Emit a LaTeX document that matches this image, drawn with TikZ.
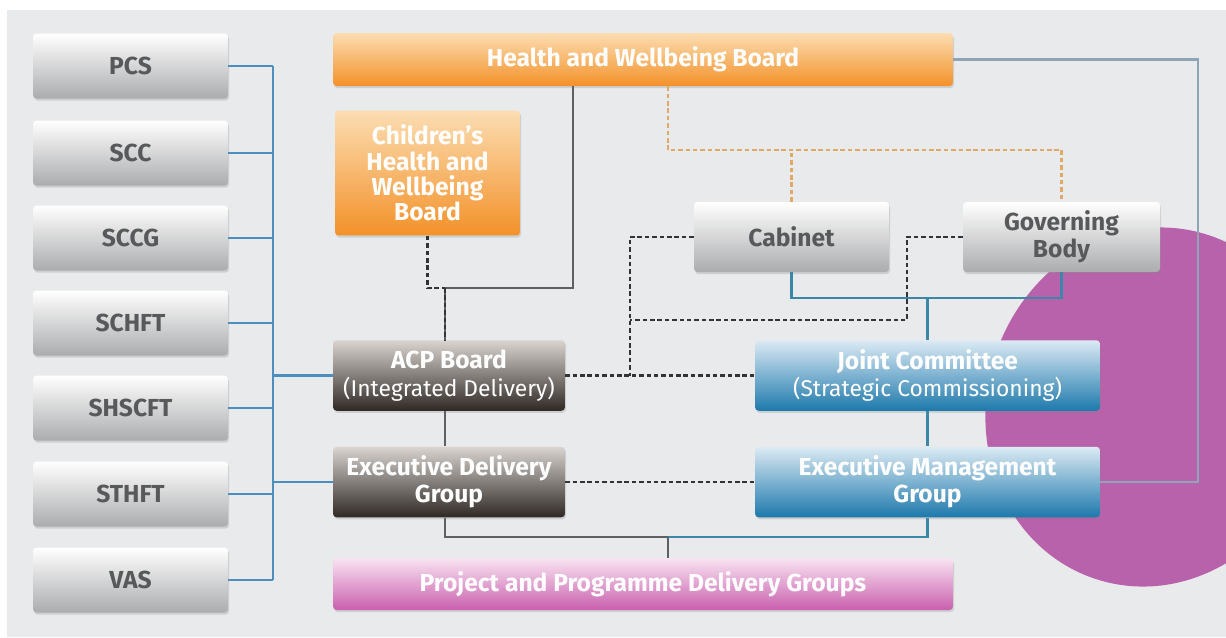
\documentclass[tikz,border=0pt]{standalone}
\usepackage{fontspec}
\setmainfont{Fira Sans}
\usetikzlibrary{shadows}

\definecolor{bgcol}{HTML}{E9EAEB}
\definecolor{greybot}{HTML}{ABACAE}
\definecolor{greytxt}{HTML}{58595B}
\definecolor{orangetop}{HTML}{FCDDB2}
\definecolor{orangebot}{HTML}{F39129}
\definecolor{browntop}{HTML}{D9D4D0}
\definecolor{brownbot}{HTML}{2F2825}
\definecolor{bluetop}{HTML}{DCEAF4}
\definecolor{bluebot}{HTML}{1D79AC}
\definecolor{pinktop}{HTML}{F9E4F1}
\definecolor{pinkbot}{HTML}{C95FAE}
\definecolor{blobcol}{HTML}{B962AC}
\definecolor{buscol}{HTML}{4A8FBF}
\definecolor{linkgrey}{HTML}{5E6163}
\definecolor{linkblue}{HTML}{3C86A8}
\definecolor{linkpale}{HTML}{8FA4B4}
\definecolor{dashorange}{HTML}{E2A865}

\newcommand{\subline}{\mdseries\fontsize{13}{15.5}\selectfont}

\begin{document}
\begin{tikzpicture}[x=0.02cm, y=-0.02cm,
  box/.style={rounded corners=2pt, align=center, text=white,
    font=\bfseries\fontsize{14}{15.5}\selectfont,
    drop shadow={opacity=0.25, shadow xshift=0.6pt, shadow yshift=-1.2pt}},
  greybox/.style={box, top color=white, bottom color=greybot, text=greytxt,
    minimum width=3.9cm, minimum height=1.3cm},
  orangebox/.style={box, top color=orangetop, bottom color=orangebot},
  brownbox/.style={box, top color=browntop, bottom color=brownbot,
    minimum width=4.64cm, minimum height=1.41cm},
  bluebox/.style={box, top color=bluetop, bottom color=bluebot,
    minimum width=6.9cm, minimum height=1.41cm},
  pinkbox/.style={box, top color=pinktop, bottom color=pinkbot,
    minimum width=12.4cm, minimum height=1.04cm},
  buslink/.style={draw=buscol, line width=1.2pt},
  greylink/.style={draw=linkgrey, line width=1.2pt},
  bluelink/.style={draw=linkblue, line width=1.2pt},
  palelink/.style={draw=linkpale, line width=1.2pt},
  dashlink/.style={draw=black!80, line width=1.3pt, dash pattern=on 2.6pt off 1.6pt},
  orangedash/.style={draw=dashorange, line width=1.3pt, dash pattern=on 2.6pt off 1.6pt}]

% canvas
\fill[white] (0,0) rectangle (1226,637);
\useasboundingbox (0,0) rectangle (1226,637);
\fill[bgcol] (7,10) rectangle (1226,637);
\begin{scope}
  \clip (7,10) rectangle (1226,637);
  \fill[blobcol, rotate around={-18:(1152,407)}] (1152,407) ellipse [x radius=3.3cm, y radius=3.62cm];
\end{scope}

% partner organisations
\node[greybox] (pcs) at (130.5,66) {PCS};
\node[greybox] (scc) at (130.5,153) {SCC};
\node[greybox] (sccg) at (130.5,238) {SCCG};
\node[greybox] (schft) at (130.5,323) {SCHFT};
\node[greybox] (shscft) at (130.5,408) {SHSCFT};
\node[greybox] (sthft) at (130.5,494) {STHFT};
\node[greybox] (vas) at (130.5,580) {VAS};

% boards
\node[orangebox, minimum width=12.4cm, minimum height=1.06cm] (hwb) at (643,59.5) {Health and Wellbeing Board};
\node[orangebox, minimum width=3.7cm, minimum height=2.5cm, font=\bfseries\fontsize{14}{14.5}\selectfont] (chwb) at (427.5,173) {Children's\\Health and\\Wellbeing\\Board};
\node[greybox, minimum height=1.4cm] (cab) at (791.5,237) {Cabinet};
\node[greybox, minimum width=3.94cm, minimum height=1.4cm] (gov) at (1061.5,237) {Governing\\Body};
\node[brownbox] (acp) at (449,375.5) {ACP Board\\{\subline (Integrated Delivery)}};
\node[bluebox] (jc) at (927.5,375.5) {Joint Committee\\{\subline (Strategic Commissioning)}};
\node[brownbox] (edg) at (449,482) {Executive Delivery\\Group};
\node[bluebox] (emg) at (927.5,482) {Executive Management\\Group};
\node[pinkbox] (ppdg) at (643,584) {Project and Programme Delivery Groups};

% junction points
\coordinate (bus) at (273,66);
\coordinate (hwbleg) at (573,288);
\coordinate (acpjoin) at (445,288);
\coordinate (orsplit) at (668,150);
\coordinate (jcbar) at (927.5,298);
\coordinate (lpost) at (630,320);
\coordinate (rpost) at (907,320);
\coordinate (pbar) at (668,537);
\coordinate (rloop) at (1198,59);

% left bus
\foreach \org in {pcs,scc,sccg,schft,shscft,sthft,vas}
  \draw[buslink] (\org.east) -- (\org.east -| bus);
\draw[buslink] (pcs.east -| bus) -- (vas.east -| bus);
\draw[buslink] (acp.west -| bus) -- (acp.west);
\draw[buslink] (edg.west -| bus) -- (edg.west);

% health and wellbeing board links
\draw[palelink] (hwb.east) -- (hwb.east -| rloop) |- (emg.east);
\draw[greylink] (hwb.south -| hwbleg) -- (hwbleg) -- (acpjoin);
\draw[dashlink] (chwb.south) |- (acpjoin);
\draw[greylink] (acpjoin) -- (acp.north -| acpjoin);
\draw[dashlink] (acpjoin) -- (acp.north -| acpjoin);
\draw[orangedash] (hwb.south -| orsplit) -- (orsplit) -| (gov.north);
\draw[orangedash] (cab.north) -- (cab.north |- orsplit);

% cabinet and governing body
\draw[bluelink] (cab.south) |- (jcbar) -| (gov.south);
\draw[bluelink] (jcbar) -- (jc.north);
\draw[dashlink] (cab.west) -| (lpost) -- (lpost |- acp.east);
\draw[dashlink] (gov.west) -| (rpost) -- (lpost);

% delivery and commissioning
\draw[dashlink] (acp.east) -- (jc.west);
\draw[dashlink] (edg.east) -- (emg.west);
\draw[greylink] (acp.south -| acpjoin) -- (edg.north -| acpjoin);
\draw[bluelink] (jc.south) -- (emg.north);
\draw[greylink] (edg.south -| acpjoin) |- (pbar);
\draw[bluelink] (pbar) -| (emg.south);
\draw[greylink] (pbar) -- (ppdg.north -| pbar);
\end{tikzpicture}
\end{document}
